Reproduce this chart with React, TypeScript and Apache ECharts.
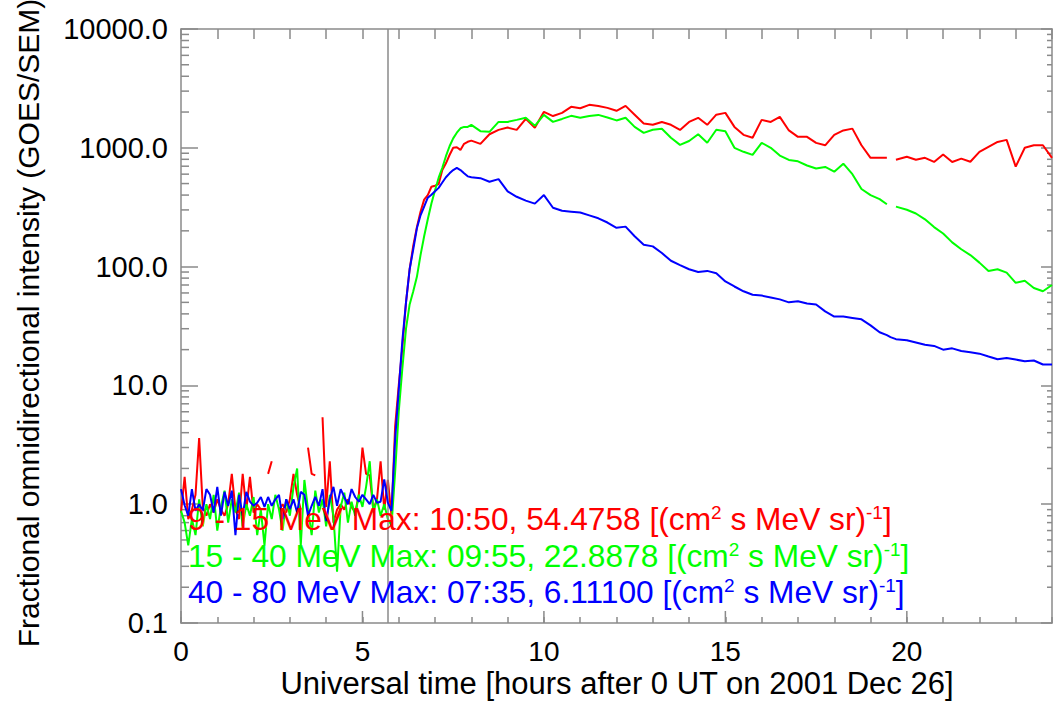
import React, { useEffect, useRef } from 'react';
import * as echarts from 'echarts';

// Time axis (hours after 0 UT on 2001 Dec 26)
const hours = [
  0.0, 0.1, 0.2, 0.3, 0.4, 0.5, 0.6, 0.7, 0.8, 0.9,
  1.0, 1.1, 1.2, 1.3, 1.4, 1.5, 1.6, 1.7, 1.8, 1.9,
  2.0, 2.1, 2.2, 2.3, 2.4, 2.5, 2.6, 2.7, 2.8, 2.9,
  3.0, 3.1, 3.2, 3.3, 3.4, 3.5, 3.6, 3.7, 3.8, 3.9,
  4.0, 4.1, 4.2, 4.3, 4.4, 4.5, 4.6, 4.7, 4.8, 4.9,
  5.0, 5.1, 5.2, 5.3, 5.4, 5.5, 5.6, 5.7, 5.8, 5.9,
  6.0, 6.1, 6.2, 6.3, 6.4, 6.5, 6.6, 6.7, 6.8, 6.9,
  7.0, 7.1, 7.2, 7.3, 7.4, 7.5, 7.6, 7.7, 7.8, 7.9,
  8.0, 8.25, 8.5, 8.75, 9.0, 9.25, 9.5, 9.75, 10.0, 10.25,
  10.5, 10.75, 11.0, 11.25, 11.5, 11.75, 12.0, 12.25, 12.5, 12.75,
  13.0, 13.25, 13.5, 13.75, 14.0, 14.25, 14.5, 14.75, 15.0, 15.25,
  15.5, 15.75, 16.0, 16.25, 16.5, 16.75, 17.0, 17.25, 17.5, 17.75,
  18.0, 18.25, 18.5, 18.75, 19.0, 19.25, 19.45, 19.55, 19.7, 20.0,
  20.25, 20.5, 20.75, 21.0, 21.25, 21.5, 21.75, 22.0, 22.25, 22.5,
  22.75, 23.0, 23.25, 23.5, 23.75, 24.0,
];

// 9 - 15 MeV (red)
const flux9to15 = [
  0.85, 1.7, 0.75, 0.9, 1.2, 3.6, 0.95, 0.8, 1.0, 0.85,
  1.1, 0.9, 0.8, 1.0, 1.8, 0.9, 0.75, 1.8, 0.9, 1.7,
  0.85, 1.0, 0.9, null, 1.8, 2.3, null, 0.9, 1.0, 0.85,
  1.1, 1.8, 1.2, 0.9, null, 3.0, 1.8, 1.75, null, 5.4,
  0.95, 2.3, 0.7, 0.9, 1.0, 0.9, 1.1, 0.95, 0.85, 1.2,
  3.0, 1.8, 1.75, 0.9, 1.1, 2.3, 0.9, 1.6, 0.8, 4.5,
  10, 21, 50, 95, 150, 215, 290, 366, 400, 470,
  480, 495, 650, 740, 870, 1000, 1010, 960, 1080, 1124,
  1150, 1080, 1300, 1415, 1480, 1415, 1755, 1472, 2010, 1850,
  1968, 2212, 2150, 2300, 2250, 2168, 2050, 2254, 1900, 1600,
  1561, 1650, 1561, 1415, 1650, 1788, 1561, 1900, 1968, 1500,
  1285, 1214, 1718, 1650, 1820, 1400, 1237, 1237, 1100, 1050,
  1285, 1400, 1450, 1050, 824, 824, 824, null, 793, 840,
  793, 824, 760, 880, 760, 810, 763, 925, 1018, 1120,
  1166, 694, 1000, 1050, 1050, 824,
];

// 15 - 40 MeV (green)
const flux15to40 = [
  0.88, 0.70, 0.45, 0.75, 0.55, 1.10, 0.65, 1.00, 0.75, 1.20,
  0.60, 0.95, 1.30, 0.70, 1.10, 0.85, 1.25, 0.65, 1.00, 0.80,
  1.15, 0.55, 0.90, 0.45, 1.00, 0.75, 1.20, 0.90, 0.60, 1.10,
  0.80, 1.40, 2.00, 0.45, 1.60, 0.90, 0.55, 1.30, 0.85, 1.10,
  0.65, 1.20, 0.80, 0.27, 0.95, 1.25, 0.70, 1.05, 0.80, 1.20,
  0.95, 1.40, 2.30, 0.85, 1.10, 0.80, 1.00, 0.75, 0.66, 1.86,
  6.0, 14, 30, 48, 62, 82, 125, 180, 250, 340,
  440, 560, 679, 850, 1030, 1200, 1340, 1460, 1500, 1500,
  1560, 1380, 1362, 1652, 1652, 1718, 1788, 1530, 1892, 1652,
  1750, 1858, 1788, 1850, 1892, 1800, 1700, 1788, 1500, 1336,
  1420, 1445, 1214, 1059, 1140, 1300, 1102, 1420, 1380, 1000,
  925, 872, 1102, 1000, 860, 790, 770, 710, 670, 690,
  630, 735, 600, 450, 400, 370, 335, null, 320, 301,
  280, 250, 215, 190, 160, 140, 125, 108, 92, 95,
  89, 73, 76, 66, 62, 70,
];

// 40 - 80 MeV (blue)
const flux40to80 = [
  1.34, 0.98, 0.80, 1.34, 0.88, 1.00, 0.88, 1.34, 1.20, 0.85,
  1.40, 0.80, 1.27, 0.97, 1.30, 0.55, 1.20, 0.80, 1.27, 1.05,
  0.97, 1.03, 1.15, 0.95, 1.15, 0.97, 1.10, 1.20, 0.75, 1.10,
  0.91, 1.10, 0.85, 1.27, 1.20, 0.80, 0.97, 1.15, 0.97, 1.34,
  0.72, 1.10, 1.40, 0.97, 1.34, 1.15, 1.00, 1.34, 1.15, 1.05,
  1.20, 1.10, 1.00, 1.20, 1.03, 1.05, 1.62, 1.03, 0.88, 3.5,
  9.2, 24, 50, 95, 140, 210, 270, 320, 380, 403,
  430, 460, 510, 565, 610, 650, 678, 650, 610, 575,
  565, 555, 518, 545, 430, 387, 359, 339, 400, 313,
  295, 290, 285, 270, 255, 235, 212, 217, 180, 153,
  148, 130, 112, 103, 95, 90, 92, 88, 75, 68,
  62, 58, 57, 55, 53, 50, 51, 49, 48, 42,
  38, 38, 37, 36, 32, 28, 26.5, 25.5, 24.5, 24,
  23, 22, 21.5, 20, 20.5, 19.5, 19, 18.5, 17.5, 16.6,
  17, 16.5, 16, 16.2, 15, 15,
];

const onsetHour = 5.71;

const xMajorTicks = [0, 5, 10, 15, 20];
const yMinorTicks = [
  0.2, 0.3, 0.4, 0.5, 0.6, 0.7, 0.8, 0.9,
  2, 3, 4, 5, 6, 7, 8, 9,
  20, 30, 40, 50, 60, 70, 80, 90,
  200, 300, 400, 500, 600, 700, 800, 900,
  2000, 3000, 4000, 5000, 6000, 7000, 8000, 9000,
];

const bands = ['9 - 15', '15 - 40', '40 - 80'];
const maxTimes = ['10:50', '09:55', '07:35'];
const maxValues = ['54.4758', '22.8878', '6.11100'];
const colors = ['#ff0000', '#00ff00', '#0000ff'];

const FONT = 'Liberation Sans, Arial, Helvetica, sans-serif';
const AXIS_GRAY = '#8a8a8a';

export default function App() {
  const ref = useRef<HTMLDivElement>(null);

  useEffect(() => {
    const chart = echarts.init(ref.current as HTMLDivElement, null, { renderer: 'svg' });
    const toPairs = (vals: (number | null)[]) => hours.map((h, i) => [h, vals[i]]);
    const seriesData = [flux9to15, flux15to40, flux40to80];

    const lineSeries: any[] = seriesData.map((vals, i) => ({
      type: 'line',
      name: bands[i] + ' MeV',
      xAxisIndex: 0,
      yAxisIndex: 0,
      data: toPairs(vals),
      showSymbol: false,
      connectNulls: false,
      lineStyle: { color: colors[i], width: 2 },
      itemStyle: { color: colors[i] },
      z: 3 + i,
      silent: true,
      markLine: i === 0 ? {
        silent: true,
        symbol: ['none', 'none'],
        label: { show: false },
        lineStyle: { color: AXIS_GRAY, width: 1.5, type: 'solid' },
        data: [{ xAxis: onsetHour }],
      } : undefined,
    }));

    const tickSeries: any[] = [
      {
        type: 'custom',
        xAxisIndex: 0,
        yAxisIndex: 0,
        silent: true,
        z: 2,
        data: yMinorTicks.map((v) => [0, v]),
        encode: { x: 0, y: 1 },
        renderItem: (_p: any, api: any) => {
          const v = api.value(1);
          const l = api.coord([0, v]);
          const r = api.coord([24, v]);
          return {
            type: 'group',
            children: [
              { type: 'line', shape: { x1: l[0], y1: l[1], x2: l[0] + 8, y2: l[1] }, style: { stroke: AXIS_GRAY, lineWidth: 1.5 } },
              { type: 'line', shape: { x1: r[0] - 5, y1: r[1], x2: r[0], y2: r[1] }, style: { stroke: AXIS_GRAY, lineWidth: 1.5 } },
            ],
          };
        },
      },
      {
        type: 'custom',
        xAxisIndex: 0,
        yAxisIndex: 0,
        silent: true,
        z: 2,
        data: xMajorTicks.map((h) => [h, 0.1]),
        encode: { x: 0, y: 1 },
        renderItem: (_p: any, api: any) => {
          const b = api.coord([api.value(0), 0.1]);
          return {
            type: 'line',
            shape: { x1: b[0], y1: b[1], x2: b[0], y2: b[1] - 12 },
            style: { stroke: AXIS_GRAY, lineWidth: 1.5 },
          };
        },
      },
    ];

    const legendTexts = bands.map((b, i) => ({
      type: 'text',
      x: 188,
      y: 519 + i * 36.7,
      silent: true,
      z: 100,
      style: {
        text: `{m|${b} MeV Max: ${maxTimes[i]}, ${maxValues[i]} [(cm}{s|2}{m| s MeV sr)}{s|-1}{m|]}`,
        fill: colors[i],
        fontSize: 31.7,
        fontFamily: FONT,
        align: 'left',
        textAlign: 'left',
        verticalAlign: 'middle',
        textVerticalAlign: 'middle',
        rich: {
          m: { fontSize: 31.7, fill: colors[i], fontFamily: FONT },
          s: { fontSize: 19, fill: colors[i], fontFamily: FONT, verticalAlign: 'top' },
        },
      },
    }));

    const option: any = {
      animation: false,
      backgroundColor: '#ffffff',
      grid: { left: 181, right: 1, top: 29, bottom: 78, containLabel: false },
      xAxis: [
        {
          type: 'value',
          position: 'bottom',
          min: 0,
          max: 24,
          interval: 1,
          axisLine: { show: true, onZero: false, lineStyle: { color: AXIS_GRAY, width: 1.5 } },
          axisTick: { show: true, inside: true, length: 6, lineStyle: { color: AXIS_GRAY, width: 1.5 } },
          axisLabel: {
            show: true,
            margin: 14,
            color: '#000',
            fontSize: 28,
            fontFamily: FONT,
            formatter: (v: number) => (v % 5 === 0 && v < 24 ? String(v) : ''),
          },
          splitLine: { show: false },
        },
        {
          type: 'value',
          position: 'top',
          min: 0,
          max: 24,
          interval: 1,
          axisLine: { show: true, onZero: false, lineStyle: { color: AXIS_GRAY, width: 1.5 } },
          axisTick: { show: true, inside: true, length: 10, lineStyle: { color: AXIS_GRAY, width: 1.5 } },
          axisLabel: { show: false },
          splitLine: { show: false },
        },
      ],
      yAxis: [
        {
          type: 'log',
          logBase: 10,
          position: 'left',
          min: 0.1,
          max: 10000,
          axisLine: { show: true, onZero: false, lineStyle: { color: AXIS_GRAY, width: 1.5 } },
          axisTick: { show: true, inside: true, length: 17, lineStyle: { color: AXIS_GRAY, width: 1.5 } },
          axisLabel: {
            show: true,
            margin: 13,
            color: '#000',
            fontSize: 29,
            fontFamily: FONT,
            formatter: (v: number) => Number(v).toFixed(1),
          },
          splitLine: { show: false },
        },
        {
          type: 'log',
          logBase: 10,
          position: 'right',
          min: 0.1,
          max: 10000,
          axisLine: { show: true, onZero: false, lineStyle: { color: AXIS_GRAY, width: 1.5 } },
          axisTick: { show: true, inside: true, length: 11, lineStyle: { color: AXIS_GRAY, width: 1.5 } },
          axisLabel: { show: false },
          splitLine: { show: false },
        },
      ],
      series: [...tickSeries, ...lineSeries],
      graphic: [
        {
          type: 'text',
          x: 28,
          y: 323,
          rotation: Math.PI / 2,
          silent: true,
          style: {
            text: 'Fractional omnidirectional intensity (GOES/SEM)',
            fill: '#000',
            fontSize: 30,
            fontFamily: FONT,
            align: 'center',
            textAlign: 'center',
            verticalAlign: 'middle',
            textVerticalAlign: 'middle',
          },
        },
        {
          type: 'text',
          x: 617,
          y: 683,
          silent: true,
          style: {
            text: 'Universal time [hours after 0 UT on 2001 Dec 26]',
            fill: '#000',
            fontSize: 31,
            fontFamily: FONT,
            align: 'center',
            textAlign: 'center',
            verticalAlign: 'middle',
            textVerticalAlign: 'middle',
          },
        },
        ...legendTexts,
      ],
    };

    chart.setOption(option);
    return () => chart.dispose();
  }, []);

  return (
    <div
      ref={ref}
      style={{ position: 'absolute', left: 0, top: 0, width: 1055, height: 701, background: '#fff' }}
    />
  );
}
